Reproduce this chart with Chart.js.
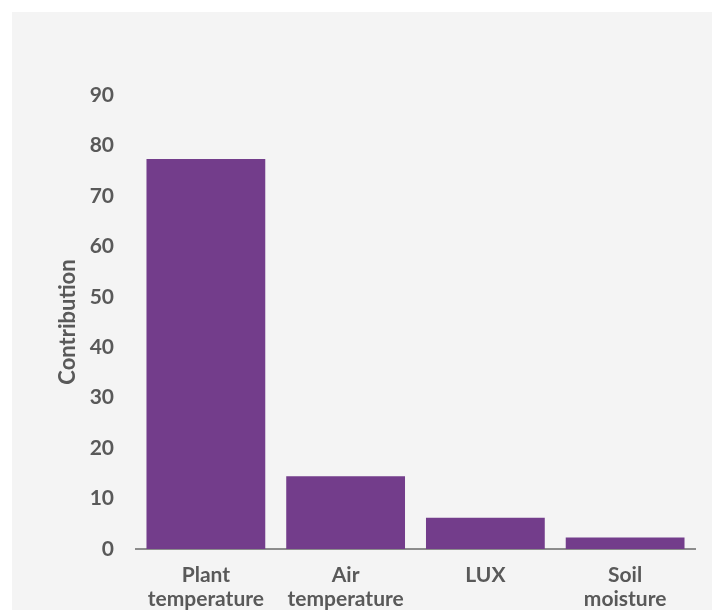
<!DOCTYPE html>
<html>
<head>
<meta charset="utf-8">
<script src="https://cdn.jsdelivr.net/npm/chart.js@4"></script>
<style>
  html, body { margin: 0; padding: 0; background: #ffffff; }
  #panel { position: absolute; left: 12px; top: 12px; width: 700px; height: 598px; background: #f4f4f4; }
  canvas { display: block; }
</style>
</head>
<body>
<div id="panel"><canvas id="contribChart" width="700" height="598"></canvas></div>
<script>
Chart.defaults.color = "#595959";
Chart.defaults.font.family = "Lato, sans-serif";
Chart.defaults.font.weight = "bold";

// Contribution of each sensor input
const factors = [["Plant", "temperature"], ["Air", "temperature"], "LUX", ["Soil", "moisture"]];
const contributions = [77.3, 14.4, 6.2, 2.3];
const yTicks = { min: 0, max: 90, step: 10 };

new Chart(document.getElementById("contribChart"), {
  type: "bar",
  data: {
    labels: factors,
    datasets: [{
      label: "Contribution",
      data: contributions,
      backgroundColor: "#733d8b",
      borderWidth: 0,
      barPercentage: 0.85,
      categoryPercentage: 1
    }]
  },
  options: {
    responsive: false,
    animation: false,
    layout: { padding: { top: 83, right: 17, bottom: 0, left: 43 } },
    plugins: { legend: { display: false }, tooltip: { enabled: false } },
    scales: {
      x: {
        grid: { display: false },
        border: { display: true, color: "#8c8c8c", width: 2 },
        ticks: { font: { size: 21, lineHeight: 1.15 }, padding: 6, maxRotation: 0 },
        afterFit: s => { s.height = 61; }
      },
      y: {
        min: yTicks.min, max: yTicks.max,
        grid: { display: false },
        border: { display: false },
        ticks: { stepSize: yTicks.step, font: { size: 21 }, padding: 14 },
        title: { display: true, text: "Contribution", font: { size: 22 }, padding: { top: 0, bottom: 4 } },
        afterFit: s => { s.width = 81; }
      }
    }
  }
});
</script>
</body>
</html>
